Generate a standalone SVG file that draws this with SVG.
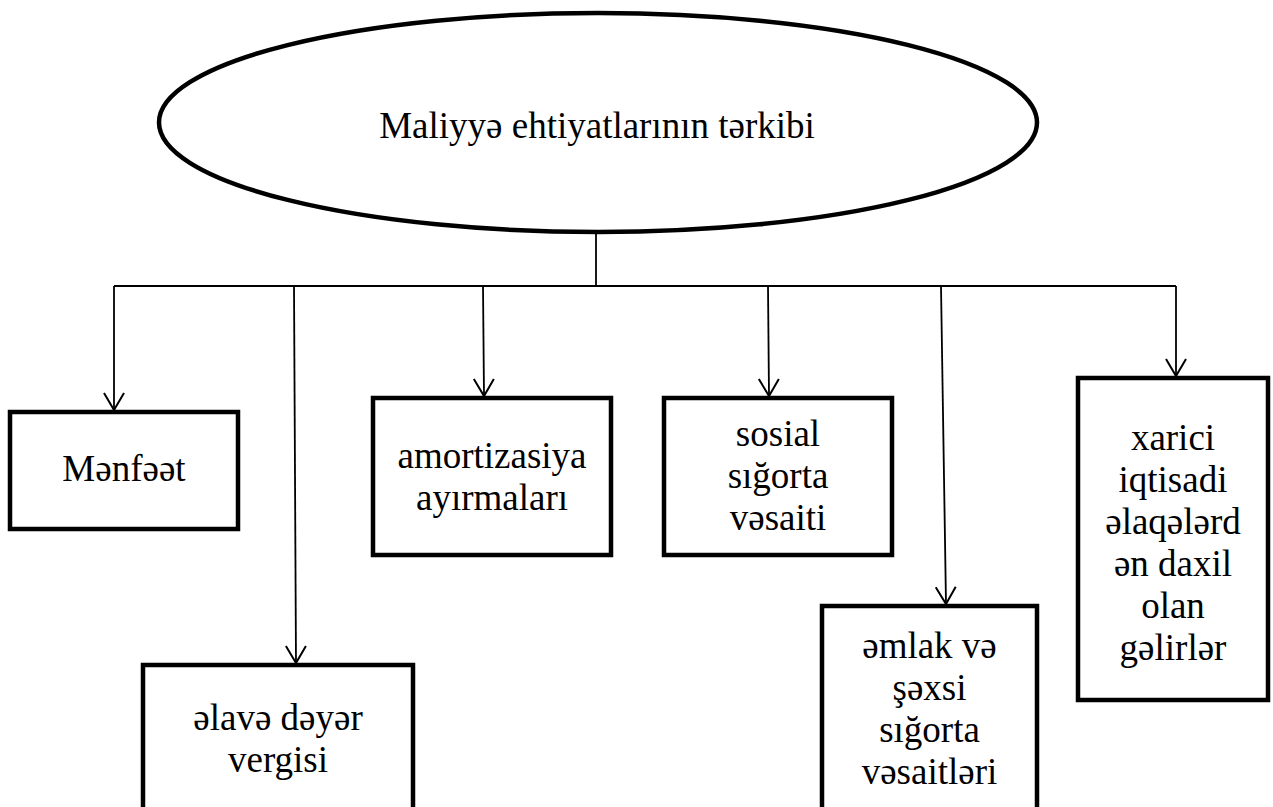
<svg xmlns="http://www.w3.org/2000/svg" width="1273" height="807" viewBox="0 0 1273 807">
<style>
  .node { fill: #ffffff; stroke: #000000; stroke-width: 4.5; }
  .lbl { font-family: "Times New Roman", Times, "Liberation Serif", Tinos, "DejaVu Serif", "Noto Serif", serif; font-size: 37px; fill: #000000; text-anchor: middle; }
  .conn { fill: none; stroke: #000000; stroke-width: 1.8; }
</style>
<defs>
  <marker id="arr" markerUnits="userSpaceOnUse" markerWidth="40" markerHeight="40" refX="0" refY="0" orient="auto" overflow="visible">
    <path d="M -17 -10 L 0 0 L -17 10" fill="none" stroke="#000000" stroke-width="2"/>
  </marker>
</defs>
<rect x="0" y="0" width="1273" height="807" fill="#ffffff"/>

<g id="connectors">
  <line class="conn" x1="596" y1="232" x2="596" y2="286"/>
  <line class="conn" x1="114" y1="286" x2="1176" y2="286"/>
  <line class="conn" x1="114" y1="286" x2="114" y2="410" marker-end="url(#arr)"/>
  <line class="conn" x1="294" y1="286" x2="296" y2="663" marker-end="url(#arr)"/>
  <line class="conn" x1="483" y1="286" x2="484" y2="396" marker-end="url(#arr)"/>
  <line class="conn" x1="768" y1="286" x2="769" y2="396" marker-end="url(#arr)"/>
  <line class="conn" x1="941" y1="286" x2="946" y2="604" marker-end="url(#arr)"/>
  <line class="conn" x1="1176" y1="286" x2="1176" y2="376" marker-end="url(#arr)"/>
</g>

<g id="root">
  <ellipse class="node" cx="598" cy="122.5" rx="439" ry="109.5"/>
  <text class="lbl" x="597" y="138">Maliyyə ehtiyatlarının tərkibi</text>
</g>

<g id="menfeet">
  <rect class="node" x="10" y="412" width="228" height="117"/>
  <text class="lbl" x="124" y="481">Mənfəət</text>
</g>

<g id="elave">
  <rect class="node" x="143" y="665" width="270" height="160"/>
  <text class="lbl" x="278" y="730">əlavə dəyər</text>
  <text class="lbl" x="278" y="772">vergisi</text>
</g>

<g id="amortizasiya">
  <rect class="node" x="373" y="398" width="238" height="157"/>
  <text class="lbl" x="492" y="468">amortizasiya</text>
  <text class="lbl" x="492" y="510">ayırmaları</text>
</g>

<g id="sosial">
  <rect class="node" x="664" y="398" width="228" height="157"/>
  <text class="lbl" x="778" y="446">sosial</text>
  <text class="lbl" x="778" y="488">sığorta</text>
  <text class="lbl" x="778" y="530">vəsaiti</text>
</g>

<g id="emlak">
  <rect class="node" x="822" y="606" width="215" height="220"/>
  <text class="lbl" x="929.5" y="658">əmlak və</text>
  <text class="lbl" x="929.5" y="700">şəxsi</text>
  <text class="lbl" x="929.5" y="742">sığorta</text>
  <text class="lbl" x="929.5" y="784">vəsaitləri</text>
</g>

<g id="xarici">
  <rect class="node" x="1078" y="378" width="190" height="322"/>
  <text class="lbl" x="1173" y="450">xarici</text>
  <text class="lbl" x="1173" y="492">iqtisadi</text>
  <text class="lbl" x="1173" y="534">əlaqələrd</text>
  <text class="lbl" x="1173" y="576">ən daxil</text>
  <text class="lbl" x="1173" y="618">olan</text>
  <text class="lbl" x="1173" y="660">gəlirlər</text>
</g>
</svg>
